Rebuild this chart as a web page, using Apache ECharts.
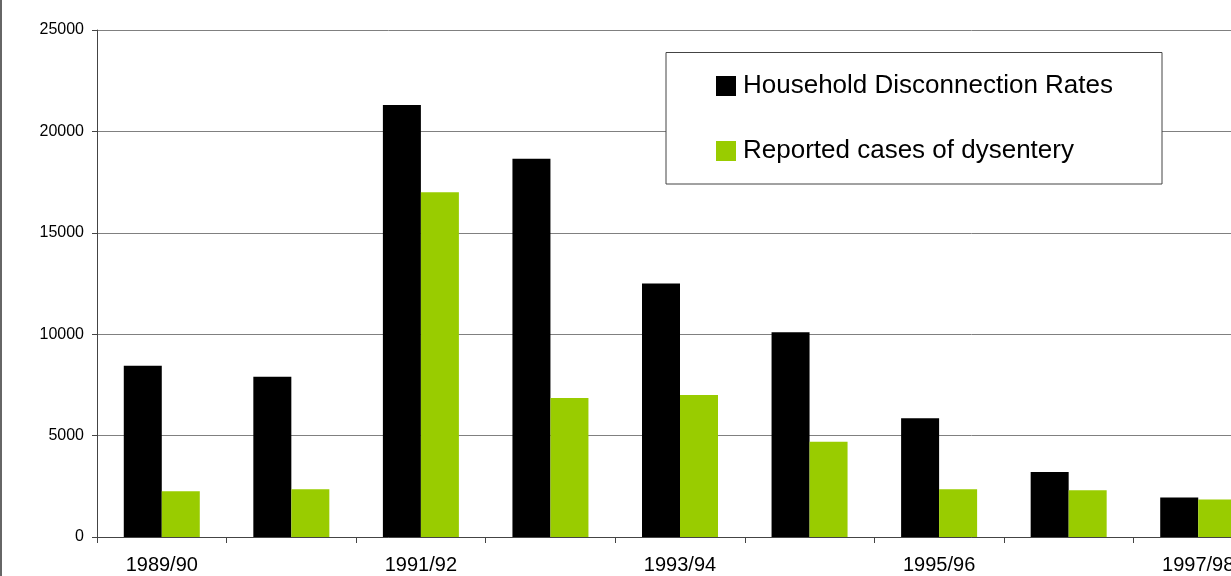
<!DOCTYPE html>
<html>
<head>
<meta charset="utf-8">
<script src="https://cdn.jsdelivr.net/npm/echarts@6/dist/echarts.min.js"></script>
<style>
  html, body { margin: 0; padding: 0; background: #fff; overflow: hidden; }
  /* the plot runs past the right edge of the window; the last category is cut off */
  #chart { width: 1263px; height: 576px; }
</style>
</head>
<body>
<div id="chart"></div>
<script>
// Financial years on the category axis
const years = ['1989/90', '1990/91', '1991/92', '1992/93', '1993/94', '1994/95', '1995/96', '1996/97', '1997/98'];
// Households disconnected from the water supply per year
const disconnections = [8450, 7900, 21300, 18650, 12500, 10100, 5850, 3200, 1950];
// Dysentery cases reported per year
const dysentery = [2250, 2350, 17000, 6850, 7000, 4700, 2350, 2300, 1850];
// Value axis ticks
const yTicks = { min: 0, max: 25000, step: 5000 };

const FONT = '"Liberation Sans", Arial, sans-serif';

const chart = echarts.init(document.getElementById('chart'), null, { renderer: 'canvas' });
chart.setOption({
  animation: false,
  backgroundColor: '#fff',
  textStyle: { fontFamily: FONT },
  grid: { left: 97, top: 30, right: 0, bottom: 39, containLabel: false },
  graphic: [
    // outer chart frame, left edge
    { type: 'line', shape: { x1: 1, y1: 0, x2: 1, y2: 576 }, style: { stroke: '#333', lineWidth: 1.5 }, z: 5 },
    // legend box
    { type: 'rect', shape: { x: 666, y: 52.5, width: 496, height: 131.5 },
      style: { fill: '#fff', stroke: '#444', lineWidth: 1 }, z: 10 }
  ],
  legend: {
    left: 716, top: 73, orient: 'vertical', z: 20, padding: 0,
    icon: 'rect', itemWidth: 20, itemHeight: 20, itemGap: 39,
    textStyle: { fontFamily: FONT, fontSize: 26, color: '#000', lineHeight: 26, padding: [0, 0, 0, 2] },
    data: ['Household Disconnection Rates', 'Reported cases of dysentery']
  },
  xAxis: {
    type: 'category',
    data: years,
    boundaryGap: true,
    axisLine: { lineStyle: { color: '#444', width: 1 } },
    axisTick: { show: true, interval: 0, length: 6, lineStyle: { color: '#444' } },
    axisLabel: { interval: 1, color: '#000', fontFamily: FONT, fontSize: 20, margin: 18 },
    splitLine: { show: false }
  },
  yAxis: {
    type: 'value',
    min: yTicks.min, max: yTicks.max, interval: yTicks.step,
    axisLine: { show: true, lineStyle: { color: '#444', width: 1 } },
    axisTick: { show: true, length: 5, lineStyle: { color: '#444' } },
    axisLabel: { color: '#000', fontFamily: FONT, fontSize: 16, margin: 13, formatter: v => String(v) },
    splitLine: { show: true, lineStyle: { color: '#808080', width: 1 } }
  },
  series: [
    { name: 'Household Disconnection Rates', type: 'bar', data: disconnections,
      barWidth: 38, barGap: '0%', itemStyle: { color: '#000' } },
    { name: 'Reported cases of dysentery', type: 'bar', data: dysentery,
      barWidth: 38, barGap: '0%', itemStyle: { color: '#99cc00' } }
  ]
});
</script>
</body>
</html>
